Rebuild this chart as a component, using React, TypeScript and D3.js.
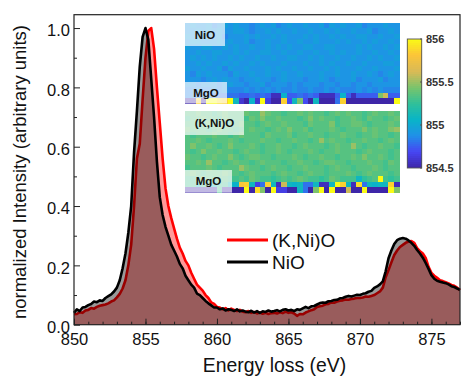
import React, { useEffect, useRef } from 'react'
import * as d3 from 'd3'

// energy grid of both spectra, 850 - 877 eV in 0.2 eV steps
const energy = d3.range(0, 136).map(i => 850 + i * 0.2)

const nioValues = [
  .040, .052, .046, .058, .060, .066, .070, .078, .076, .082,
  .080, .090, .096, .102, .112, .125, .150, .190, .240, .310,
  .400, .580, .720, .870, .970, 1.00, .960, .830, .700, .550,
  .430, .370, .330, .300, .270, .250, .230, .205, .190, .165,
  .150, .135, .125, .105, .100, .090, .080, .072, .065, .058,
  .058, .052, .055, .048, .052, .050, .046, .052, .045, .048,
  .044, .042, .047, .041, .046, .040, .045, .043, .048, .044,
  .046, .049, .045, .050, .052, .048, .050, .046, .052, .050,
  .055, .060, .056, .062, .063, .068, .073, .075, .074, .079,
  .080, .083, .084, .089, .090, .094, .097, .095, .098, .101,
  .100, .104, .106, .111, .114, .124, .129, .136, .146, .180,
  .224, .250, .272, .285, .290, .292, .290, .284, .276, .266,
  .252, .240, .226, .208, .188, .167, .155, .148, .145, .142,
  .140, .136, .130, .127, .122, .118,
]

const knioValues = [
  .035, .036, .042, .040, .048, .050, .056, .054, .060, .064,
  .066, .068, .072, .078, .082, .092, .104, .122, .150, .200,
  .270, .400, .560, .610, .760, .900, .990, 1.00, .930, .800,
  .680, .560, .460, .400, .360, .325, .290, .260, .240, .215,
  .200, .175, .155, .135, .125, .115, .100, .090, .075, .070,
  .060, .058, .052, .056, .048, .054, .050, .046, .050, .044,
  .042, .046, .040, .043, .038, .041, .037, .040, .036, .039,
  .040, .038, .042, .039, .044, .040, .042, .038, .030, .036,
  .035, .041, .045, .049, .052, .060, .062, .064, .069, .070,
  .075, .074, .078, .081, .082, .085, .084, .087, .088, .090,
  .090, .092, .095, .094, .097, .100, .106, .112, .125, .160,
  .184, .210, .235, .250, .262, .269, .276, .280, .282, .276,
  .258, .248, .240, .225, .195, .175, .165, .158, .150, .147,
  .143, .139, .134, .131, .125, .116,
]

const energyTicks = [850, 855, 860, 865, 870, 875]
const energyMinorTicks = d3.range(850, 878)
const intensityTicks = [0, 0.2, 0.4, 0.6, 0.8, 1]
const intensityMinorTicks = [0.1, 0.3, 0.5, 0.7, 0.9]
const colorbarTicks = [854.5, 855, 855.5, 856]

const seriesNames = ['(K,Ni)O', 'NiO']

// map cells, one base-36 digit per cell: 854.5 eV + digit * 0.05 eV
const nioMap = [
  '8988978989 8878989789 8898897989 8897888988',
  '8898989889 9878898988 9889889898 8988978898',
  '9889889788 8989889898 8898988989 8899889889',
  '8998889898 8978898898 8988988898 9889898898',
  '9889988989 8898898989 8899889988 8898988989',
  '8898899889 8988998898 8988988989 8898898898',
  '8989898898 9889889889 9889898898 8988989889',
  '8898988989 8898988898 8898898988 9889888998',
  '9889889798 8988898988 9889889898 8898898889',
  '8798988879 8898898898 8988898898 8988987898',
  '8887898988 7889887898 8878898788 8978889788',
  '8878887898 8788978887 8788878878 8788788888',
  '7787787877 7878787877 8778778787 7787878777',
  '7777766666 5565651 1b5 56565111 5b 515555jm55',
  '00r0uusruc 20b2u300r4 cj40c0006r 000000000u',
].map(r => r.replace(/ /g, ''))

const knioMap = [
  'hhihhghihh hihhkihhgh hihihhghih ihhghihhih',
  'ghhihhgihh hgihjhhihh hghjhihhgh hihgihhghi',
  'hhghihhhgh ihhghihhih hhgihhhjgh hiihghhhih',
  'ihhhghihhg hhihhghihj hhighhhihg hhhjhihhjk',
  'hghhhihhgh ihhhgihhhi ghhihhghhi hhghhihhgh',
  'hhihghhhih ghhhihhghh ihhghkhihh ghhihhghih',
  'hjhhihghjh hhihghhihh ghihhhghih hkhghhihhg',
  'hghjhhihhg hihhghhihg hhhihghhih hhghihhhgh',
  'ihhghihhjh ghiihhghhh ihghhihhgh hihjhhihgh',
  'hhihkhhghi hhghihhhgh hihhghiihh ghhhihhgih',
  'ghhhihghhh kihhghihhg hhihhhghih hghhhihghh',
  'hihghhhihh ghihhhghih hghihhghhh ihghihhhgh',
  'gghihghhgg hgihggfghg hihggfgihg ggcfghugfg',
  'ggcggcggcb qrc36rc1mc bc66c11cur c1s6cbccr1',
  '000000g000 0u0sj0u330 0c60ju0u00 m00u0000uj',
].map(r => r.replace(/ /g, ''))

const cellValue = (c: string) => 854.5 + parseInt(c, 36) * 0.05

const parula = d3.scaleLinear<string>()
  .domain([854.5, 854.6875, 854.875, 855.0625, 855.25, 855.4375, 855.625, 855.8125, 856])
  .range(['#3e26a8', '#4745f3', '#2090e8', '#08b4c8', '#2fc09a', '#78c46c', '#d9ba56', '#fcc538', '#f9fb15'])
  .clamp(true)

const width = 468
const height = 391
const margin = { left: 74, right: 460, top: 14.7, bottom: 324.7 }

const font = '"Liberation Sans", Arial, sans-serif'

const x = d3.scaleLinear().domain([850, 877]).range([margin.left, margin.right])
const y = d3.scaleLinear().domain([0, 1.045]).range([margin.bottom, margin.top])

const heatCols = d3.range(40)
const heatRows = d3.range(15)

function HeatMap ({ rows, x0, x1, y0, y1 }: { rows: string[], x0: number, x1: number, y0: number, y1: number }) {
  const cx = d3.scaleBand<number>().domain(heatCols).range([x0, x1])
  const cy = d3.scaleBand<number>().domain(heatRows).range([y0, y1])
  return (
    <g shapeRendering='crispEdges'>
      {rows.map((row, r) => heatCols.map(c => (
        <rect key={r + '-' + c} x={cx(c)} y={cy(r)} width={cx.bandwidth() + 0.5} height={cy.bandwidth() + 0.5}
          fill={parula(cellValue(row[c]))} />
      )))}
    </g>
  )
}

function Label ({ text, bx, by, bw, bh }: { text: string, bx: number, by: number, bw: number, bh: number }) {
  return (
    <g>
      <rect x={bx} y={by} width={bw} height={bh} fill='#fff' opacity={0.68} />
      <text x={bx + bw / 2} y={by + bh / 2 + 4} textAnchor='middle' fontSize={11.5} fontWeight='bold' fill='#111'>{text}</text>
    </g>
  )
}

export default function App () {
  const xAxisRef = useRef<SVGGElement>(null)
  const xMinorRef = useRef<SVGGElement>(null)
  const yAxisRef = useRef<SVGGElement>(null)
  const yMinorRef = useRef<SVGGElement>(null)

  useEffect(() => {
    const style = (g: any) => {
      g.select('.domain').remove()
      g.selectAll('line').attr('stroke', '#222').attr('stroke-width', 1)
      g.selectAll('text').attr('font-size', 16.5).attr('font-family', font).attr('fill', '#111')
    }
    d3.select(xAxisRef.current).call(
      d3.axisBottom(x).tickValues(energyTicks).tickFormat(d3.format('d')).tickSizeInner(-6).tickPadding(9) as any
    ).call(style)
    d3.select(xMinorRef.current).call(
      d3.axisBottom(x).tickValues(energyMinorTicks).tickFormat(() => '').tickSizeInner(-3) as any
    ).call(style)
    d3.select(yAxisRef.current).call(
      d3.axisLeft(y).tickValues(intensityTicks).tickFormat(d3.format('.1f')).tickSizeInner(-6).tickPadding(4) as any
    ).call(style).call((g: any) => g.selectAll('text').attr('dy', '0.47em'))
    d3.select(yMinorRef.current).call(
      d3.axisLeft(y).tickValues(intensityMinorTicks).tickFormat(() => '').tickSizeInner(-3) as any
    ).call(style)
  }, [])

  const area = d3.area<number>().x((_, i) => x(energy[i])).y0(y(0)).y1(d => y(d))
  const line = d3.line<number>().x((_, i) => x(energy[i])).y(d => y(d))

  const barY = d3.scaleLinear().domain([854.5, 856]).range([168, 39])
  const barSteps = d3.range(0, 64).map(i => 854.5 + (i + 0.5) * 1.5 / 64)
  const barH = (168 - 39) / 64 + 0.5

  return (
    <svg width={width} height={height} fontFamily={font}
      style={{ position: 'absolute', left: 0, top: 0, background: '#fff' }}>
      <path d={area(knioValues) || ''} fill='#ff0000' fillOpacity={0.4} />
      <path d={line(knioValues) || ''} fill='none' stroke='#f00' strokeWidth={2.6} strokeLinejoin='round' />
      <path d={area(nioValues) || ''} fill='#000' fillOpacity={0.4} />
      <path d={line(nioValues) || ''} fill='none' stroke='#000' strokeWidth={2.6} strokeLinejoin='round' />

      <rect x={margin.left} y={margin.top} width={margin.right - margin.left} height={margin.bottom - margin.top}
        fill='none' stroke='#222' strokeWidth={1.2} />
      <g ref={xMinorRef} transform={`translate(0,${margin.bottom})`} />
      <g ref={xAxisRef} transform={`translate(0,${margin.bottom})`} />
      <g ref={yMinorRef} transform={`translate(${margin.left},0)`} />
      <g ref={yAxisRef} transform={`translate(${margin.left},0)`} />

      <text x={274.5} y={372} textAnchor='middle' fontSize={19.4} fill='#111'>Energy loss (eV)</text>
      <text transform='translate(26,172) rotate(-90)' textAnchor='middle' fontSize={18.5} fill='#111'>
        normalized Intensity (arbitrary units)
      </text>

      <HeatMap rows={nioMap} x0={185} x1={399} y0={23} y1={103.5} />
      <Label text='NiO' bx={185} by={23} bw={40} bh={23} />
      <Label text='MgO' bx={185} by={82} bw={42} bh={21.5} />
      <HeatMap rows={knioMap} x0={185} x1={399} y0={110.5} y1={192.7} />
      <Label text='(K,Ni)O' bx={185} by={111} bw={59} bh={24} />
      <Label text='MgO' bx={185} by={170} bw={47} bh={22.7} />

      <g shapeRendering='crispEdges'>
        {barSteps.map(v => (
          <rect key={v} x={407.3} y={barY(v) - barH / 2} width={14.4} height={barH} fill={parula(v)} />
        ))}
      </g>
      <rect x={407.3} y={39} width={14.4} height={129} fill='none' stroke='#555' strokeWidth={0.9} />
      {colorbarTicks.map(t => (
        <g key={t}>
          <line x1={420} x2={422} y1={barY(t)} y2={barY(t)} stroke='#555' />
          <text x={426} y={barY(t) + 4} fontSize={11} fontWeight='bold' fill='#333'>{t}</text>
        </g>
      ))}

      {seriesNames.map((name, i) => (
        <g key={name}>
          <line x1={227} x2={268} y1={240 + i * 22} y2={240 + i * 22} stroke={i === 0 ? '#f00' : '#000'} strokeWidth={3} />
          <text x={272} y={246.5 + i * 22} fontSize={19} fill='#111'>{name}</text>
        </g>
      ))}
    </svg>
  )
}
